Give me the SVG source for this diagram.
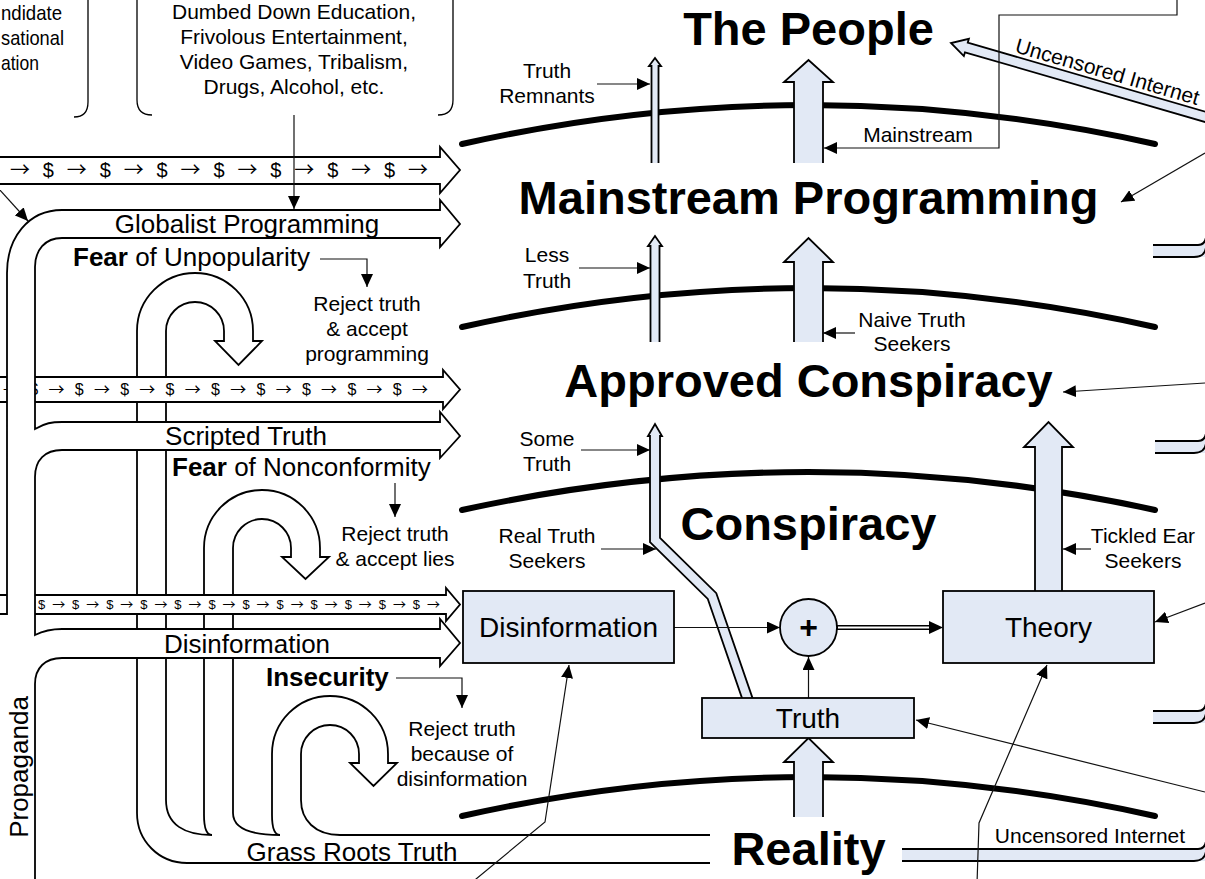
<svg xmlns="http://www.w3.org/2000/svg" width="1205" height="879" viewBox="0 0 1205 879">
<defs>
<marker id="ah" markerUnits="userSpaceOnUse" markerWidth="14" markerHeight="12" refX="13" refY="6" orient="auto">
<path d="M0,0 L13,6 L0,12 z" fill="#000"/>
</marker>
<style>
text{font-family:"Liberation Sans",Arial,sans-serif;fill:#000}
.t{font-size:47px;font-weight:bold;text-anchor:middle}
.lb{font-size:21px;text-anchor:middle}
.ar{font-size:26px;text-anchor:middle}
.bx{font-size:28px;text-anchor:middle}
.mo{font-family:"Liberation Sans","Noto Sans CJK SC",sans-serif}
.ga{font-family:"Noto Sans CJK SC","DejaVu Sans",sans-serif}
.arc{fill:none;stroke:#000;stroke-width:6;stroke-linecap:round}
.fl{fill:#e2e9f5;stroke:#000;stroke-width:1.8}
.fo{fill:#e2e9f5;stroke:none}
.so{fill:none;stroke:#000;stroke-width:1.8}
.wh{fill:#fff;stroke:#000;stroke-width:1.8}
.cna{fill:none;stroke:#111;stroke-width:1.2;marker-end:url(#ah)}
.br{fill:none;stroke:#000;stroke-width:1.3}
</style>
</defs>
<rect width="1205" height="879" fill="#fff"/>

<g id="callout-left">
<path class="br" d="M88,-2 V102 Q88,117 74,117"/>
<text x="1" y="20" font-size="21" textLength="61" lengthAdjust="spacingAndGlyphs">ndidate</text>
<text x="1" y="45" font-size="21" textLength="63" lengthAdjust="spacingAndGlyphs">sational</text>
<text x="1" y="70" font-size="21" textLength="38" lengthAdjust="spacingAndGlyphs">ation</text>
</g>
<g id="callout-distractions">
<path class="br" d="M137,-2 V100 Q137,115 152,115"/>
<path class="br" d="M453,-2 V100 Q453,115 438,115"/>
<text class="lb" x="294" y="19">Dumbed Down Education,</text>
<text class="lb" x="294" y="44">Frivolous Entertainment,</text>
<text class="lb" x="294" y="69">Video Games, Tribalism,</text>
<text class="lb" x="294" y="94">Drugs, Alcohol, etc.</text>
</g>

<g id="grass-roots">
<path class="wh" d="M710,835 H340 C315,835 301,820 301,800 V754 A29,29 0 0 1 359,754 V763 H350 L373.5,786 L397,763 H388 V754 A58,58 0 0 0 272,754 V815 C272,828 275,835 280,835 C250,835 233,828 233,813 V548 A29,29 0 0 1 291,548 V557 H282 L305.5,579 L329,557 H320 V548 A58,58 0 0 0 204,548 V815 C204,828 207,835 212,835 C185,835 166,825 166,800 V331 A29,29 0 0 1 224,331 V341 H215 L238.5,365 L262,341 H253 V331 A58,58 0 0 0 137,331 V813 C137,841 159,863 187,863 H710"/>
<text class="ar" x="352" y="861">Grass Roots Truth</text>
</g>

<g id="money-1">
<path class="wh" d="M-5,157 H440 V147 L460,170 L440,193 V184 H-5 Z"/>
<text class="mo" x="10" y="177" font-size="20" textLength="418" lengthAdjust="spacing"><tspan class="ga">→</tspan> $ <tspan class="ga">→</tspan> $ <tspan class="ga">→</tspan> $ <tspan class="ga">→</tspan> $ <tspan class="ga">→</tspan> $ <tspan class="ga">→</tspan> $ <tspan class="ga">→</tspan> $ <tspan class="ga">→</tspan></text>
</g>
<g id="money-2">
<path class="wh" d="M-5,377 H443 V370 L460,389.5 L443,409 V402 H-5 Z"/>
<text class="mo" x="3" y="395" font-size="16" textLength="425" lengthAdjust="spacing"><tspan class="ga">→</tspan> $ <tspan class="ga">→</tspan> $ <tspan class="ga">→</tspan> $ <tspan class="ga">→</tspan> $ <tspan class="ga">→</tspan> $ <tspan class="ga">→</tspan> $ <tspan class="ga">→</tspan> $ <tspan class="ga">→</tspan> $ <tspan class="ga">→</tspan> $ <tspan class="ga">→</tspan></text>
</g>
<g id="money-3">
<path class="wh" d="M-5,595 H446 V588 L460,604.5 L446,621 V614 H-5 Z"/>
<text class="mo" x="38" y="609" font-size="13" textLength="402" lengthAdjust="spacing">$ <tspan class="ga">→</tspan> $ <tspan class="ga">→</tspan> $ <tspan class="ga">→</tspan> $ <tspan class="ga">→</tspan> $ <tspan class="ga">→</tspan> $ <tspan class="ga">→</tspan> $ <tspan class="ga">→</tspan> $ <tspan class="ga">→</tspan> $ <tspan class="ga">→</tspan> $ <tspan class="ga">→</tspan> $ <tspan class="ga">→</tspan> $ <tspan class="ga">→</tspan></text>
</g>

<g id="propaganda">
<path class="wh" d="M-10,614 H7 V273 C7,238 28,210 62,210 H440 V200 L460,224 L440,247 V238 H62 C45,238 35,250 35,267 V429 C45,423 52,422 62,422 H440 V412 L460,436 L440,458 V450 H62 C45,450 35,460 35,477 V635 C45,630 52,629 62,629 H440 V619 L460,643 L440,666 V658 H62 C45,658 35,668 35,684 V900 H-10 Z"/>
<text class="ar" x="247" y="233">Globalist Programming</text>
<text class="ar" x="246" y="445">Scripted Truth</text>
<text class="ar" x="247" y="653">Disinformation</text>
<text class="ar" transform="translate(28,767) rotate(-90)">Propaganda</text>
</g>

<g id="fears">
<text x="73" y="266" font-size="26"><tspan font-weight="bold">Fear</tspan> of Unpopularity</text>
<text x="172" y="476" font-size="26"><tspan font-weight="bold">Fear</tspan> of Nonconformity</text>
<text x="266" y="686" font-size="26" font-weight="bold">Insecurity</text>
<text class="lb" x="367" y="311">Reject truth</text>
<text class="lb" x="367" y="336">&amp; accept</text>
<text class="lb" x="367" y="361">programming</text>
<text class="lb" x="395" y="541">Reject truth</text>
<text class="lb" x="395" y="566">&amp; accept lies</text>
<text class="lb" x="462" y="736">Reject truth</text>
<text class="lb" x="462" y="761">because of</text>
<text class="lb" x="462" y="786">disinformation</text>
</g>

<g id="levels">
<path class="arc" d="M462,144 Q808.5,66 1155,144"/>
<path class="arc" d="M462,327 Q808.5,249 1155,327"/>
<path class="arc" d="M462,510 Q808.5,434 1155,510"/>
<path class="arc" d="M462,816 Q808.5,738 1155,816"/>
</g>

<g id="flows">
<path class="fl" d="M794,163 V82 H784 L808.5,60 L833,82 H823 V163"/>
<path class="fl" d="M794,342 V262 H784 L808.5,238 L833,262 H823 V342"/>
<path class="fl" d="M1035,592 V447 H1024 L1048.5,422 L1073,447 H1062 V592"/>
<path class="fl" d="M794,817 V762 H784 L808.5,738 L833,762 H823 V817"/>
<path class="fl" stroke-width="1.5" d="M651.5,163 V66 H649 L655,58 L661,66 H658.5 V163"/>
<path class="fl" stroke-width="1.5" d="M650.5,342 V246 H648 L655,236 L662,246 H659.5 V342"/>
<path class="fl" stroke-width="1.5" d="M745.3,707.6 L707.8,598.9 L650,542.1 V436 H648 L655,424 L662,436 H660 V537.9 L716.3,593.2 L754.7,704.4"/>
</g>

<g id="internet">
<g transform="translate(951,43) rotate(16.2)">
<path class="fl" stroke-width="1.5" d="M280,-5 H16 V-9 L0,0 L16,9 V5 H280"/>
<text x="63" y="-9" font-size="21">Uncensored Internet</text>
</g>
<path class="fo" d="M1153,245 H1198 Q1205,245 1205,237 V257 H1153 Z"/>
<path class="so" d="M1153,245 H1198 Q1205,245 1206,237 M1153,257 H1194 Q1205,257 1206,247"/>
<path class="fo" d="M1155,441 H1198 Q1205,441 1205,433 V453 H1155 Z"/>
<path class="so" d="M1155,441 H1198 Q1205,441 1206,433 M1155,453 H1194 Q1205,453 1206,443"/>
<path class="fo" d="M1153,711 H1198 Q1205,711 1205,703 V723 H1153 Z"/>
<path class="so" d="M1153,711 H1198 Q1205,711 1206,703 M1153,723 H1194 Q1205,723 1206,713"/>
<path class="fo" d="M902,849 H1198 Q1205,849 1205,841 V861 H902 Z"/>
<path class="so" d="M902,849 H1198 Q1205,849 1206,841 M902,861 H1194 Q1205,861 1206,851"/>
<text class="lb" x="1090" y="843">Uncensored Internet</text>
</g>

<g id="connectors">
<path class="cna" d="M294,115 V209"/>
<path class="cna" d="M-2,188 L28,221"/>
<path class="cna" d="M320,259 H367 V287"/>
<path class="cna" d="M395,483 V517"/>
<path class="cna" d="M396,678 H462 V708"/>
<path class="cna" d="M597,84 H650"/>
<path class="cna" d="M579,268 H650"/>
<path class="cna" d="M581,450 H650"/>
<path class="cna" d="M601,549 H656"/>
<path class="cna" d="M855,333 H823"/>
<path class="cna" d="M1091,549 H1063"/>
<path class="cna" d="M1177,-2 V15 H999 V148 H824"/>
<path class="cna" d="M1205,153 L1121,202"/>
<path class="cna" d="M1205,383 L1063,392"/>
<path class="cna" d="M1205,603 L1155,622"/>
<path class="cna" d="M1205,792 L916,720"/>
<path class="cna" d="M470,884 L545,822 L569,665"/>
<path class="cna" d="M977,884 L979,823 L1047,665"/>
<path class="cna" d="M674,627.5 H780"/>
<path class="cna" d="M808.5,698 V657"/>
<path fill="none" stroke="#000" stroke-width="5" d="M837,627.5 H931"/>
<path fill="none" stroke="#fff" stroke-width="1.8" d="M838,627.5 H929"/>
<path fill="#000" d="M929,621 L943,627.5 L929,634 z"/>
</g>

<g id="node-disinformation">
<rect class="fl" x="463" y="591" width="211" height="72"/>
<text class="bx" x="568.5" y="637">Disinformation</text>
</g>
<g id="node-theory">
<rect class="fl" x="943" y="591" width="211" height="72"/>
<text class="bx" x="1048.5" y="637">Theory</text>
</g>
<g id="node-truth">
<rect class="fl" x="702" y="698" width="212" height="40"/>
<text class="bx" x="808" y="728">Truth</text>
</g>
<g id="node-plus">
<circle class="fl" cx="808.5" cy="627.5" r="28.5"/>
<text x="808.5" y="638" font-size="32" font-weight="bold" text-anchor="middle">+</text>
</g>

<g id="titles">
<text class="t" x="808.5" y="45">The People</text>
<text class="t" x="808.5" y="214">Mainstream Programming</text>
<text class="t" x="808.5" y="397">Approved Conspiracy</text>
<text class="t" x="808.5" y="540">Conspiracy</text>
<text class="t" x="808.5" y="865">Reality</text>
</g>

<g id="labels">
<text class="lb" x="547" y="78">Truth</text>
<text class="lb" x="547" y="103">Remnants</text>
<text class="lb" x="547" y="262">Less</text>
<text class="lb" x="547" y="288">Truth</text>
<text class="lb" x="547" y="446">Some</text>
<text class="lb" x="547" y="471">Truth</text>
<text class="lb" x="547" y="543">Real Truth</text>
<text class="lb" x="547" y="568">Seekers</text>
<text class="lb" x="912" y="327">Naive Truth</text>
<text class="lb" x="912" y="351">Seekers</text>
<text class="lb" x="1143" y="543">Tickled Ear</text>
<text class="lb" x="1143" y="568">Seekers</text>
<text class="lb" x="918" y="142">Mainstream</text>
</g>
</svg>
